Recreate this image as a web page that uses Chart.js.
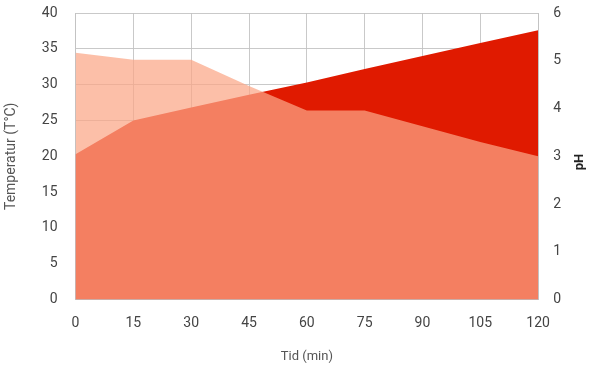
<!DOCTYPE html>
<html>
<head>
<meta charset="utf-8">
<script src="https://cdn.jsdelivr.net/npm/chart.js@4/dist/chart.umd.min.js"></script>
<style>
  html, body { margin: 0; padding: 0; background: #fff; }
  #wrap { width: 589px; height: 365px; }
</style>
</head>
<body>
<div id="wrap"><canvas id="chart" width="589" height="365"></canvas></div>
<script>
// tid i minuter
const tid = [0, 15, 30, 45, 60, 75, 90, 105, 120];
const temperatur = [20.3, 25.0, 26.8, 28.6, 30.3, 32.2, 34.0, 35.8, 37.6];
const ph = [5.17, 5.02, 5.02, 4.47, 3.96, 3.96, 3.63, 3.3, 3.0];

const tempTitle = 'Temperatur (T°C)';
const phTitle = 'pH';
const tidTitle = 'Tid (min)';

function toPoints(values) {
    return tid.map((t, i) => ({ x: t, y: values[i] }));
}

// right axis title reads bottom-to-top in the original
const phTitlePlugin = {
    id: 'phTitle',
    afterDraw(chart) {
        const ctx = chart.ctx;
        ctx.save();
        ctx.translate(580, 162);
        ctx.rotate(-Math.PI / 2);
        ctx.font = 'bold 13px Roboto';
        ctx.fillStyle = '#222';
        ctx.textAlign = 'center';
        ctx.textBaseline = 'middle';
        ctx.fillText(phTitle, 0, 0);
        ctx.restore();
    }
};

// drop the automatic label padding, the layout padding below decides
function noPad(s) {
    s.paddingTop = 0;
    s.paddingBottom = 0;
    s.paddingLeft = 0;
    s.paddingRight = 0;
}

const tickFont = { family: 'Roboto', size: 14 };
const gridColor = 'rgba(195,195,195,0.9)';

const chart = new Chart(document.getElementById('chart').getContext('2d'), {
    type: 'line',
    data: {
        datasets: [
            {
                label: 'pH',
                data: toPoints(ph),
                yAxisID: 'y2',
                backgroundColor: 'rgba(251,166,134,0.72)',
                borderWidth: 0,
                pointRadius: 0,
                fill: 'origin',
                order: 1
            },
            {
                label: 'Temperatur',
                data: toPoints(temperatur),
                yAxisID: 'y',
                backgroundColor: '#e01a00',
                borderWidth: 0,
                pointRadius: 0,
                fill: 'origin',
                order: 2
            }
        ]
    },
    options: {
        responsive: false,
        animation: false,
        layout: { padding: { top: 13, left: 0, right: 13, bottom: 0 } },
        plugins: {
            legend: { display: false },
            title: { display: false },
            tooltip: { enabled: false }
        },
        scales: {
            x: {
                type: 'linear',
                min: 0,
                max: 120,
                afterFit: noPad,
                afterBuildTicks: s => { s.ticks = tid.map(v => ({ value: v })); },
                ticks: { font: tickFont, color: '#444', padding: 15, maxRotation: 0 },
                grid: { color: gridColor, drawTicks: false },
                border: { color: gridColor },
                title: {
                    display: true,
                    text: tidTitle,
                    font: { family: 'Roboto', size: 13 },
                    color: '#555',
                    padding: { top: 3, bottom: 0 }
                }
            },
            y: {
                position: 'left',
                min: 0,
                max: 40,
                afterFit: noPad,
                ticks: { stepSize: 5, font: tickFont, color: '#444', padding: 18 },
                grid: { color: gridColor, drawTicks: false },
                border: { color: gridColor },
                title: {
                    display: true,
                    text: tempTitle,
                    font: { family: 'Roboto', size: 14 },
                    color: '#555',
                    padding: { top: 3, bottom: 4 }
                }
            },
            y2: {
                position: 'right',
                min: 0,
                max: 6,
                afterFit: noPad,
                ticks: { stepSize: 1, font: tickFont, color: '#444', padding: 15 },
                grid: { drawOnChartArea: false, drawTicks: false },
                border: { color: gridColor }
            }
        }
    },
    plugins: [phTitlePlugin]
});
</script>
</body>
</html>
